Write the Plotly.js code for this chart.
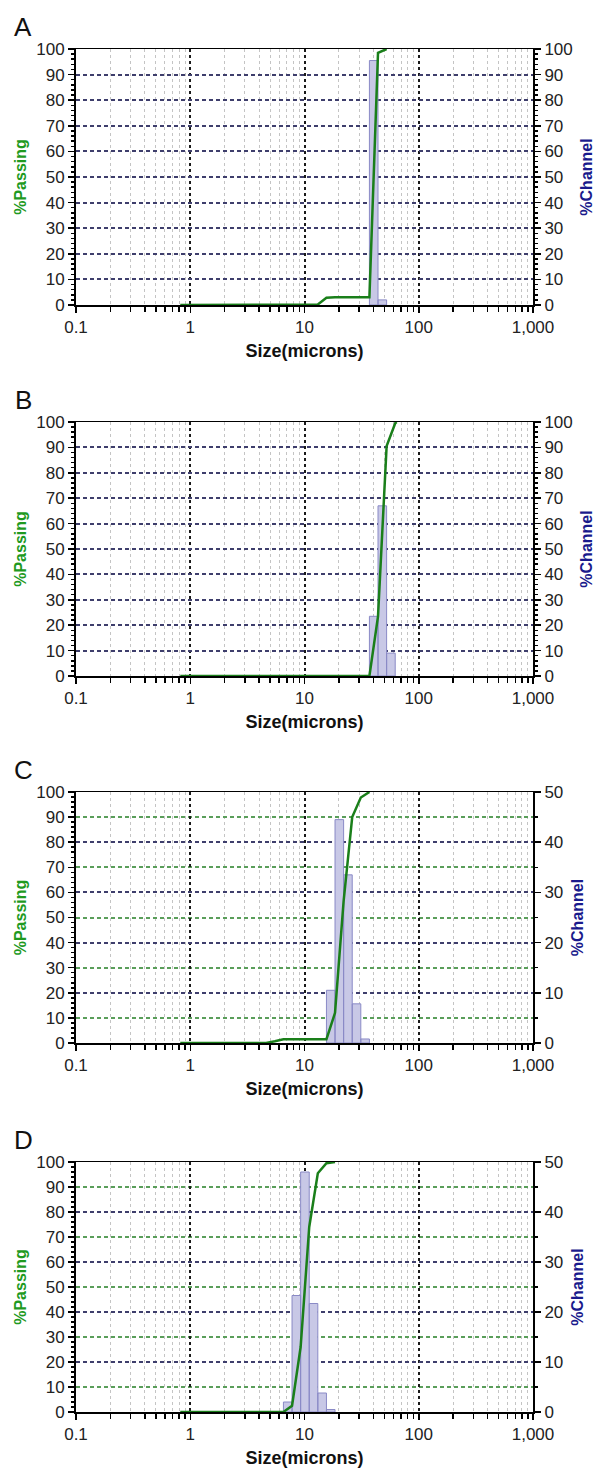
<!DOCTYPE html>
<html>
<head>
<meta charset="utf-8">
<script src="https://cdn.plot.ly/plotly-3.0.1.min.js"></script>
<style>
html,body{margin:0;padding:0;background:#fff;}
#chart{width:595px;height:1472px;}
</style>
</head>
<body>
<div id="chart"></div>
<script>
// ---------- DATA ----------
const panelLetters = ["A", "B", "C", "D"];
const xTickVals = [0.1, 1, 10, 100, 1000];
const xTickText = ["0.1", "1", "10", "100", "1,000"];
const channelAxisMax = [100, 100, 50, 50];

// Panel A
const sizeA = [0.818, 11.00, 13.08, 15.56, 18.50, 37.00, 44.00, 52.33];
const passingA = [0, 0, 0.2, 2.8, 3.0, 3.0, 98.5, 100];
const binLowA = [37.00, 44.00];
const binHighA = [44.00, 52.33];
const channelA = [95.5, 2.0];

// Panel B
const sizeB = [0.818, 37.00, 44.00, 52.33, 62.23, 64.0];
const passingB = [0, 0, 23.5, 90.5, 99.5, 100];
const binLowB = [37.00, 44.00, 52.33];
const binHighB = [44.00, 52.33, 62.23];
const channelB = [23.5, 67.0, 9.0];

// Panel C
const sizeC = [0.818, 4.62, 5.50, 6.54, 15.56, 18.50, 22.00, 26.16, 31.11, 37.00];
const passingC = [0, 0, 0.7, 1.5, 1.5, 12.0, 56.5, 90.0, 97.8, 100];
const binLowC = [15.56, 18.50, 22.00, 26.16, 31.11];
const binHighC = [18.50, 22.00, 26.16, 31.11, 37.00];
const channelC = [10.5, 44.5, 33.5, 7.8, 0.8];

// Panel D
const sizeD = [0.818, 6.54, 7.78, 9.25, 11.00, 13.08, 15.56, 18.50];
const passingD = [0, 0, 2.5, 26.0, 74.0, 95.5, 99.5, 100];
const binLowD = [6.54, 7.78, 9.25, 11.00, 13.08, 15.56];
const binHighD = [7.78, 9.25, 11.00, 13.08, 15.56, 18.50];
const channelD = [2.0, 23.3, 48.0, 21.7, 3.8, 0.5];

const panels = [
  {size: sizeA, passing: passingA, lo: binLowA, hi: binHighA, ch: channelA},
  {size: sizeB, passing: passingB, lo: binLowB, hi: binHighB, ch: channelB},
  {size: sizeC, passing: passingC, lo: binLowC, hi: binHighC, ch: channelC},
  {size: sizeD, passing: passingD, lo: binLowD, hi: binHighD, ch: channelD}
];

// ---------- LAYOUT ----------
const W = 595, H = 1472;
const plotLeft = 76, plotRight = 533;
const plotTop = [49, 422, 792, 1162];
const plotBottom = [305, 676, 1043, 1412];
const FONT = '"Liberation Sans", Arial, Helvetica, sans-serif';
const NAVY_GRID = '#3e3e6c';
const GREEN_GRID = '#5a9e5a';

const minorX = [];
[0.1, 1, 10, 100].forEach(d => { for (let k = 2; k <= 9; k++) minorX.push(+(d * k).toPrecision(3)); });

const layout = {
  width: W, height: H,
  margin: {l: 0, r: 0, t: 0, b: 0},
  paper_bgcolor: '#fff', plot_bgcolor: '#fff',
  showlegend: false,
  font: {family: FONT, color: '#222'},
  annotations: []
};
const traces = [];

panels.forEach((p, i) => {
  const xKey = i === 0 ? 'xaxis' : 'xaxis' + (i + 1);
  const xId = i === 0 ? 'x' : 'x' + (i + 1);
  const leftNum = 2 * i + 1, rightNum = 2 * i + 2;
  const leftKey = leftNum === 1 ? 'yaxis' : 'yaxis' + leftNum;
  const leftId = leftNum === 1 ? 'y' : 'y' + leftNum;
  const rightKey = 'yaxis' + rightNum;
  const rightId = 'y' + rightNum;
  const yDom = [1 - plotBottom[i] / H, 1 - plotTop[i] / H];
  const halfScale = channelAxisMax[i] === 50;

  layout[xKey] = {
    type: 'log', domain: [plotLeft / W, plotRight / W], range: [-1, 3],
    anchor: rightId,
    tickmode: 'array', tickvals: xTickVals, ticktext: xTickText,
    ticks: 'outside', ticklen: 6, tickwidth: 1.5, tickcolor: '#000',
    tickfont: {size: 17, color: '#222'},
    showline: true, linecolor: '#000', linewidth: 1.5, mirror: true,
    showgrid: true, gridcolor: '#1a1a1a', griddash: '3px,3px', gridwidth: 2,
    zeroline: false,
    minor: {tickmode: 'array', tickvals: minorX, ticks: 'outside', ticklen: 5,
            tickcolor: '#000', tickwidth: 1.5,
            showgrid: true, gridcolor: '#c4c4c4', griddash: '3px,3px', gridwidth: 1},
    title: {text: 'Size(microns)', font: {size: 18, color: '#111', weight: 700}, standoff: 8}
  };

  // right axis: %Channel (main subplot, holds bars; navy major grid)
  const rightMinor = halfScale
    ? {tickmode: 'array', tickvals: [5, 15, 25, 35, 45], ticks: 'outside', ticklen: 3,
       tickcolor: '#000', showgrid: true, gridcolor: GREEN_GRID, griddash: '4px,3px', gridwidth: 2}
    : {dtick: 2, ticks: 'outside', ticklen: 3, tickcolor: '#000', showgrid: false};
  layout[rightKey] = {
    domain: yDom, range: [0, channelAxisMax[i]], anchor: xId, side: 'right',
    tickmode: 'linear', tick0: 0, dtick: 10,
    ticks: 'outside', ticklen: 6, tickwidth: 1.5, tickcolor: '#000',
    tickfont: {size: 17, color: '#222'},
    showline: true, linecolor: '#000', linewidth: 2,
    showgrid: true, gridcolor: NAVY_GRID, griddash: '4px,3px', gridwidth: 2,
    zeroline: false,
    minor: rightMinor,
    title: {text: '%Channel', font: {size: 16, color: '#1a1a8c', weight: 700}, standoff: 9}
  };

  // left axis: %Passing (overlay, holds the curve so it draws above the bars)
  layout[leftKey] = {
    domain: yDom, range: [0, 100], anchor: xId, overlaying: rightId, side: 'left',
    tickmode: 'linear', tick0: 0, dtick: 10,
    ticks: 'outside', ticklen: 6, tickwidth: 1.5, tickcolor: '#000',
    tickfont: {size: 17, color: '#222'},
    showline: true, linecolor: '#000', linewidth: 2,
    showgrid: false,
    zeroline: false,
    minor: {dtick: 2, ticks: 'outside', ticklen: 3, tickcolor: '#000', showgrid: false},
    title: {text: '%Passing', font: {size: 16, color: '#1f9a1f', weight: 700}, standoff: 6}
  };

  // bars as closed polygons from bin edges
  const bx = [], by = [];
  p.ch.forEach((v, j) => {
    bx.push(p.lo[j], p.lo[j], p.hi[j], p.hi[j], p.lo[j], null);
    by.push(0, v, v, 0, 0, null);
  });
  traces.push({
    type: 'scatter', mode: 'lines', x: bx, y: by,
    fill: 'toself', fillcolor: '#c8c8e6',
    line: {color: '#8a8ac6', width: 1},
    xaxis: xId, yaxis: rightId, hoverinfo: 'skip'
  });
  traces.push({
    type: 'scatter', mode: 'lines', x: p.size, y: p.passing,
    line: {color: '#1a7f1a', width: 2.5},
    xaxis: xId, yaxis: leftId
  });

  layout.annotations.push({
    text: panelLetters[i], xref: 'paper', yref: 'paper',
    x: 23 / W, y: 1 - (plotTop[i] - 22) / H,
    xanchor: 'center', yanchor: 'middle', showarrow: false,
    font: {size: 26, color: '#111', family: FONT}
  });
});

Plotly.newPlot('chart', traces, layout, {staticPlot: true, displayModeBar: false});
</script>
</body>
</html>
